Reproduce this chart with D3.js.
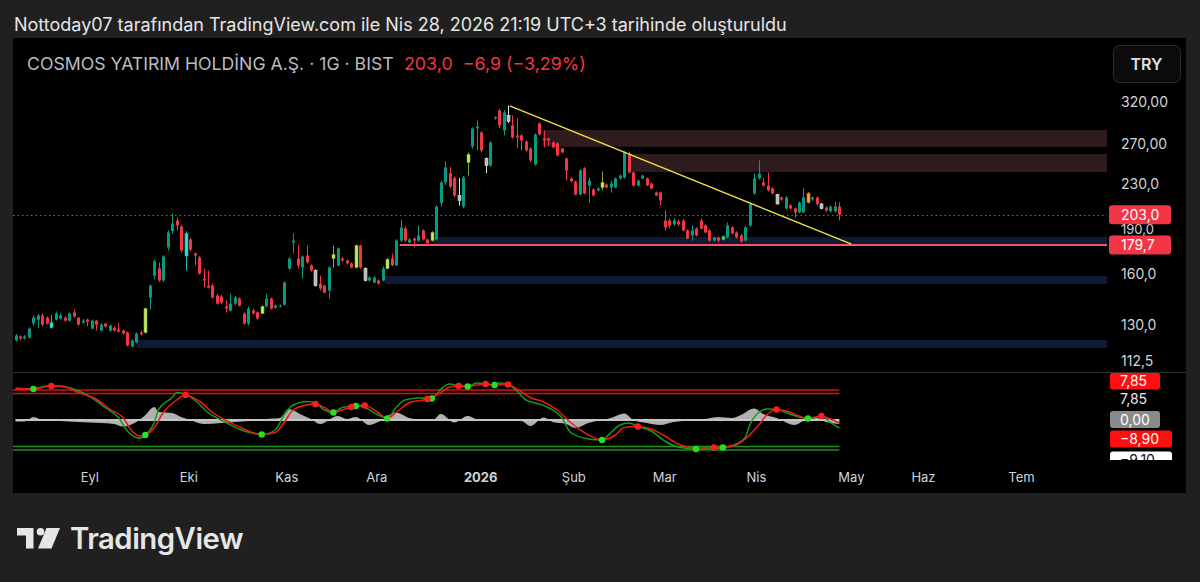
<!DOCTYPE html>
<html><head><meta charset="utf-8">
<script src="https://cdn.jsdelivr.net/npm/d3@7"></script>
<style>html,body{margin:0;padding:0;background:#202020;overflow:hidden}svg{display:block}</style>
</head><body><svg id="c" width="1200" height="582"></svg>
<script>
// ---------------- DATA ----------------
const openP = [122.3,124.3,123.3,123.8,131.0,133.0,135.3,134.1,128.8,133.0,133.6,134.1,132.5,137.0,134.1,131.4,133.1,128.3,132.5,127.3,
130.9,127.3,128.8,127.8,127.3,126.3,119.4,121.3,126.3,126.3,145.4,158.9,163.5,155.8,178.0,190.0,198.4,193.7,172.0,183.8,
173.7,171.0,156.9,152.6,152.6,146.6,146.0,140.3,138.0,141.9,144.8,136.4,130.9,138.0,137.0,136.4,140.3,144.8,139.6,140.3,
141.3,163.5,181.5,170.2,164.2,172.3,165.5,162.2,153.8,152.6,149.6,170.2,165.5,170.2,168.9,166.9,164.2,179.4,163.5,155.8,
154.5,155.8,155.8,163.5,170.2,165.5,183.0,192.1,181.5,184.5,183.0,190.6,183.8,183.0,183.8,213.0,231.3,240.3,235.5,219.5,
210.0,250.8,267.5,287.6,283.0,254.8,247.7,299.5,309.3,285.3,303.0,291.2,279.6,279.6,272.9,265.3,248.7,293.5,276.2,276.2,
271.8,270.7,265.3,254.8,235.1,232.3,220.4,244.8,228.5,224.9,224.0,226.7,229.4,226.7,226.7,235.1,236.0,260.0,240.8,228.5,
235.1,235.1,230.3,222.2,222.2,198.4,198.4,195.3,197.6,198.4,190.6,186.8,192.1,198.4,194.5,190.6,183.0,185.3,183.8,185.3,
193.0,189.1,186.8,183.0,194.5,221.3,235.1,231.3,228.5,225.8,220.4,217.7,208.3,210.8,208.3,205.0,205.0,221.3,216.0,217.7,
212.1,209.1,205.8,205.8,209.9];
const highP = [125.5,125.0,125.0,129.0,135.3,136.0,136.5,134.8,135.5,137.5,136.5,134.8,137.0,138.5,134.5,133.5,133.6,133.0,133.0,131.0,
131.4,130.5,129.4,131.4,127.8,126.8,122.8,126.3,127.3,139.6,153.2,169.5,167.6,172.5,190.6,204.0,201.0,195.0,190.0,185.0,
174.4,172.0,163.5,162.2,154.0,147.5,147.0,143.7,147.8,146.5,145.5,137.0,140.3,139.1,137.5,141.0,147.5,145.5,141.4,141.4,
155.2,171.0,188.3,179.4,172.5,179.4,166.2,163.0,158.9,153.2,165.0,179.4,178.0,171.5,169.5,167.6,180.0,180.0,164.2,158.3,
158.5,156.5,165.0,170.5,173.7,184.0,199.2,193.5,185.0,185.3,194.5,191.5,184.5,190.0,211.0,232.5,252.0,246.0,237.0,235.5,
237.5,261.0,289.0,297.1,284.5,256.0,273.0,302.0,311.0,310.0,315.7,303.2,300.0,281.0,274.0,266.5,282.0,294.8,285.3,277.0,
273.0,272.0,266.0,256.0,236.0,233.0,244.0,246.0,236.0,226.0,227.0,241.8,230.5,233.0,236.0,239.0,262.5,262.0,241.5,234.0,
238.5,236.0,231.0,223.0,223.0,206.6,200.0,200.0,199.0,199.5,191.5,194.5,193.0,200.0,195.5,191.5,186.0,186.0,187.0,197.0,
194.0,190.0,188.0,194.0,213.5,240.0,252.8,236.0,240.8,227.0,221.0,218.5,219.0,212.0,209.0,214.0,226.2,222.5,218.5,218.5,
213.0,210.0,211.0,214.0,213.5];
const lowP = [121.8,122.5,122.8,123.3,129.9,128.5,129.5,130.5,128.3,132.5,133.0,132.0,132.0,134.0,129.8,131.0,129.4,128.0,127.3,126.8,
128.8,126.8,126.8,126.3,125.3,119.4,118.9,120.8,124.8,125.8,138.5,156.5,155.0,155.0,175.8,188.0,190.6,174.5,162.0,175.0,
165.5,159.5,151.4,150.8,144.8,141.3,141.5,136.9,137.5,141.0,140.3,130.4,129.9,135.8,133.0,136.0,139.6,138.5,139.0,139.8,
140.8,162.5,173.7,163.5,157.1,166.9,161.5,152.0,149.6,147.8,144.8,164.2,165.0,168.0,166.2,163.5,163.5,163.5,155.2,155.0,
154.0,153.2,155.2,163.0,165.0,165.0,182.0,182.0,181.0,178.0,182.0,183.0,179.5,182.3,183.0,210.0,229.0,226.0,218.0,210.8,
208.5,237.9,265.0,263.2,261.0,240.0,246.5,298.0,288.0,279.6,294.0,276.0,265.6,263.2,262.0,251.0,247.7,279.6,266.5,268.6,
265.5,257.0,260.0,233.2,231.5,219.5,219.5,220.5,212.9,218.5,223.0,224.0,226.0,222.0,226.0,234.0,235.0,240.0,227.5,227.5,
234.5,228.0,225.0,219.0,210.8,190.6,192.0,194.0,194.0,190.0,184.0,183.0,186.0,191.5,188.5,182.0,182.5,181.5,183.0,184.5,
187.5,184.5,181.5,182.3,193.5,220.0,234.0,227.5,223.0,220.5,211.5,215.0,207.5,207.5,200.8,204.5,204.5,212.5,215.0,211.0,
207.5,205.5,205.0,205.0,198.4];
const closeP = [124.8,123.3,124.3,128.3,134.1,135.3,130.4,131.0,131.4,136.4,135.3,132.5,136.4,134.7,130.4,132.5,132.0,132.5,130.4,130.4,
129.4,129.9,127.3,126.8,125.8,119.9,122.3,125.8,125.3,139.1,152.6,168.3,155.8,171.6,189.1,196.0,194.5,175.8,188.3,176.5,
172.3,160.2,155.8,151.4,145.4,141.9,142.5,139.1,141.9,145.4,140.8,130.9,139.1,136.4,133.6,140.3,144.8,139.1,140.8,140.8,
154.6,170.2,183.0,165.5,171.6,167.6,162.2,152.6,150.8,148.4,164.2,173.0,177.2,168.9,166.9,164.2,179.4,164.2,155.8,157.7,
157.7,153.8,163.5,169.6,165.5,183.0,192.9,183.0,183.8,183.0,186.8,183.8,180.9,189.1,209.9,231.3,245.8,227.5,219.5,215.1,
236.1,259.0,287.6,289.9,263.2,247.7,271.8,301.0,291.2,306.8,296.0,277.3,277.3,274.0,263.2,252.8,280.7,280.7,274.0,274.0,
266.5,257.9,261.1,242.8,232.3,220.4,242.8,221.3,233.2,219.5,225.8,231.3,226.7,230.3,235.1,237.9,261.1,240.8,228.5,233.2,
237.9,228.5,225.8,219.5,215.1,193.0,194.5,198.4,195.3,190.6,184.5,190.6,186.8,192.1,189.1,183.0,185.3,183.0,186.0,194.5,
188.3,185.3,182.3,193.0,212.1,235.1,239.8,228.5,224.0,221.3,212.1,216.0,217.7,208.3,205.0,213.4,217.7,213.4,217.7,212.1,
208.3,206.6,209.9,209.9,203.0];
// highlighted bars (bar index -> colour kind)
const barMarks = {8:'cyan',29:'yg',38:'cyan',55:'yg',67:'grey',71:'yg',76:'yg',78:'grey',83:'yg',93:'yg',99:'grey',101:'yg',
  105:'grey',110:'grey',131:'yg',158:'lime',170:'grey',177:'orange',180:'grey'};

// month labels: [label, bar index of first session]
const monthTicks = [['Eyl',16.6],['Eki',38.7],['Kas',60.6],['Ara',80.7],['2026',103.9],['Şub',124.7],['Mar',145],['Nis',165.5],['May',186.7],['Haz',202.8],['Tem',224.7]];
const priceTicks = [[320,'320,00'],[270,'270,00'],[230,'230,0'],[190,'190,0'],[160,'160,0'],[130,'130,0'],[112.5,'112,5']];

// drawn zones: [startBar, lowPrice, highPrice, kind]
const zones = [[117.7,267.0,285.8,'supply'],[137.1,241.3,259.5,'supply'],[93.2,180.4,185.6,'demand'],[82.5,153.6,158.6,'demand'],[27.1,118.7,122.6,'demand']];
const levelLine = {startBar:85.8, price:179.7};
const lastPrice = 203.0;
const trendLine = [[110.4,314.9],[186.7,180.4]];

// WaveTrend oscillator keypoints [bar, value]
const wt1 = [[0,62],[4,62],[7,68],[10,68],[13,62],[17,45],[20,25],[23,5],[25,-22],[27,-35],[28,-36],[29,-30],[31,-5],[32,22],[35,45],[36,55],[38,52],[40,40],[43,15],[47,-5],[51,-22],[54,-28],[55,-29],[58,-20],[60,10],[62,30],[65,37],[67,34],[69,20],[71,15],[73,25],[76,28],[78,25],[81,10],[83,3],[85,25],[87,40],[90,44],[93,43],[95,62],[97,72],[99,68],[101,67],[103,74],[105,72],[107,70],[108,74],[110,71],[112,58],[114,40],[117,32],[119,25],[122,5],[124,-25],[128,-38],[131,-40],[133,-25],[135,-10],[137,-6],[139,-13],[142,-22],[145,-42],[148,-54],[152,-58],[156,-57],[158,-55],[161,-48],[163,-35],[164,-10],[166,15],[168,22],[170,21],[173,12],[175,6],[177,3],[179,6],[180,8],[182,-5],[184,-16]];
const wt2 = [[0,64],[4,62],[8,68],[11,66],[14,55],[18,42],[21,22],[24,5],[26,-22],[28,-32],[29,-30],[31,-15],[33,15],[36,40],[38,50],[41,38],[44,15],[48,-5],[51,-18],[55,-29],[58,-25],[60,-5],[62,20],[65,30],[67,32],[69,25],[71,15],[73,20],[75,26],[77,29],[78,29],[81,15],[83,3],[85,15],[88,35],[92,42],[95,55],[97,66],[99,68],[101,67],[103,70],[105,72],[107,70],[110,71],[112,62],[115,45],[118,36],[121,20],[124,-5],[128,-30],[131,-40],[134,-30],[136,-15],[139,-13],[142,-18],[145,-32],[148,-48],[152,-56],[156,-55],[158,-55],[161,-50],[163,-38],[166,-10],[168,12],[170,21],[173,16],[175,8],[177,3],[180,8],[182,2],[184,-6]];
const wtHist = [[0,-3],[2,-3],[4,6],[6,0],[10,-2],[14,-4],[19,-6],[22,-8],[24,-13],[27,-4],[29,10],[31,26],[32,16],[35,14],[37,6],[39,0],[42,-8],[46,-6],[49,-4],[52,-2],[56,2],[59,4],[61,22],[64,10],[66,2],[68,-8],[72,8],[74,2],[76,6],[79,-10],[81,-4],[85,15],[88,4],[90,1],[93,-2],[95,12],[98,-5],[101,8],[104,-2],[106,2],[109,0],[113,-2],[115,-12],[118,5],[120,-4],[123,-8],[125,-16],[128,-6],[131,0],[133,4],[136,13],[138,0],[141,-6],[144,-10],[147,-4],[151,-1],[154,2],[157,6],[160,4],[162,10],[165,23],[167,12],[170,4],[174,-10],[176,-2],[179,4],[181,-4],[184,-8]];
const crossUp = [[4,62],[29,-30],[55,-29],[71,15],[76,28],[83,3],[93,43],[101,67],[107,70],[131,-40],[152,-58],[158,-55],[177,3]];
const crossDown = [[8,68],[38,50],[67,32],[75,26],[78,29],[92,42],[99,68],[105,72],[110,71],[139,-13],[156,-55],[170,21],[180,8]];
const obLevels = [60,53], osLevels = [-53,-60];
const oscLabels = [['7,85','red'],['7,85','plain'],['0,00','grey'],['\u22128,90','red'],['\u22129,10','white']];

// ---------------- LAYOUT ----------------
const svg = d3.select('#c');
const C = {bg:'#202020', panel:'#000000', up:'#089981', down:'#f23645', text:'#d1d4dc'};
const plotL = 13, plotR = 1107, paneTop = 38, paneBot = 372, oscTop = 373, oscBot = 460, axisR = 1186;

svg.append('rect').attr('width',1200).attr('height',582).attr('fill',C.bg);
svg.append('rect').attr('x',plotL).attr('y',paneTop).attr('width',axisR-plotL).attr('height',493-paneTop).attr('fill',C.panel);

const n = closeP.length;
const x = d3.scaleLinear().domain([0, n-1]).range([15.5, 839.3]);
const y = d3.scaleLog().domain([107.5, 413]).range([372.5, 38.7]);
const yo = d3.scaleLinear().domain([-80, 80]).range([460, 380]);

const defs = svg.append('defs');
defs.append('clipPath').attr('id','cp').append('rect').attr('x',plotL).attr('y',paneTop).attr('width',plotR-plotL).attr('height',paneBot-paneTop);
defs.append('clipPath').attr('id','co').append('rect').attr('x',plotL).attr('y',oscTop).attr('width',axisR-plotL).attr('height',oscBot-oscTop);

// title
function fit(sel, w){ const l = sel.node().getComputedTextLength(); const fs = parseFloat(sel.attr('font-size')); sel.attr('font-size', fs*w/l); }
const t0 = svg.append('text').attr('x',14).attr('y',31).attr('font-family','Inter, Roboto, sans-serif').attr('font-size',16).attr('fill','#e6e6e6')
  .text('Nottoday07 tarafından TradingView.com ile Nis 28, 2026 21:19 UTC+3 tarihinde oluşturuldu');
fit(t0, 773);
const t1 = svg.append('text').attr('x',27).attr('y',70).attr('font-family','Inter, Roboto, sans-serif').attr('font-size',15).attr('fill','#b8bcc6')
  .text('COSMOS YATIRIM HOLDİNG A.Ş. · 1G · BIST');
fit(t1, 367);
const t2 = svg.append('text').attr('x',404).attr('y',70).attr('font-family','Inter, Roboto, sans-serif').attr('font-size',15).attr('fill','#f23645')
  .attr('xml:space','preserve').text('203,0  \u22126,9 (\u22123,29%)');
fit(t2, 182);

// TRY button
svg.append('rect').attr('x',1113.5).attr('y',45.5).attr('width',67).attr('height',37).attr('rx',6).attr('fill','#0b0b0b').attr('stroke','#2c2c2c');
svg.append('text').attr('x',1146.5).attr('y',69.5).attr('text-anchor','middle').attr('font-family','Inter, Roboto, sans-serif')
  .attr('font-size',16).attr('font-weight',600).attr('fill','#e0e0e0').text('TRY');

// ---- price pane ----
const gp = svg.append('g').attr('clip-path','url(#cp)');
zones.forEach(z => {
  gp.append('rect').attr('x',x(z[0])).attr('y',y(z[2])).attr('width',plotR - x(z[0])).attr('height',y(z[1])-y(z[2]))
    .attr('fill', z[3]==='supply' ? '#2e1b1d' : '#0e1b30');
});
gp.append('line').attr('x1',x(levelLine.startBar)).attr('x2',plotR).attr('y1',y(levelLine.price)).attr('y2',y(levelLine.price))
  .attr('stroke','#f0556a').attr('stroke-width',2);
gp.append('line').attr('x1',plotL).attr('x2',plotR).attr('y1',Math.round(y(lastPrice))+0.5).attr('y2',Math.round(y(lastPrice))+0.5)
  .attr('stroke','#f23645').attr('stroke-width',1).attr('stroke-dasharray','1.5,3');

const markFill = {yg:'#c8ee5a', grey:'#b8b8b8', cyan:'#33e0d6', lime:'#4cd964', orange:'#ff9f43'};
const markStroke = {yg:'#7aa83a', grey:'#e0e0e0', cyan:'#1fb5ad', lime:'#2e9e48', orange:'#d07020'};
d3.range(n).forEach(i => {
  const o = openP[i], c = closeP[i], h = highP[i], l = lowP[i];
  const mk = barMarks[i];
  const col = mk ? markFill[mk] : (c >= o ? C.up : C.down);
  const cx = Math.round(x(i)) + 0.5;
  gp.append('line').attr('x1',cx).attr('x2',cx).attr('y1',y(h)).attr('y2',y(l)).attr('stroke', mk ? markStroke[mk] : col).attr('stroke-width',1);
  const top = y(Math.max(o,c)), bot = y(Math.min(o,c));
  gp.append('rect').attr('x',cx-1.5).attr('y',top).attr('width',3).attr('height',Math.max(1,bot-top))
    .attr('fill',col).attr('stroke', mk ? markStroke[mk] : 'none').attr('stroke-width', mk ? 0.6 : 0);
});
gp.append('line').attr('x1',x(trendLine[0][0])).attr('y1',y(trendLine[0][1])).attr('x2',x(trendLine[1][0])).attr('y2',y(trendLine[1][1]))
  .attr('stroke','#f2e043').attr('stroke-width',1.4);

// price axis labels
const fontAxis = 'Inter, Roboto, sans-serif';
priceTicks.forEach(t => {
  const yy = t[0] === 190 ? y(t[0]) + 3 : y(t[0]) + 5;
  svg.append('text').attr('x',1121).attr('y',yy).attr('font-family',fontAxis).attr('font-size',t[0]===190?13:14).attr('fill',C.text).text(t[1]);
});
function tag(val, txt, fill, tc){
  const cy = y(val);
  svg.append('rect').attr('x',1109).attr('y',cy-9.5).attr('width',62).attr('height',19).attr('rx',3).attr('fill',fill);
  svg.append('text').attr('x',1121).attr('y',cy+5).attr('font-family',fontAxis).attr('font-size',14).attr('fill',tc).text(txt);
}
tag(lastPrice,'203,0','#f23645','#fff');
tag(levelLine.price,'179,7','#f23645','#fff');

// separator
svg.append('line').attr('x1',plotL).attr('x2',axisR).attr('y1',372.5).attr('y2',372.5).attr('stroke','#2e2e2e');

// ---- oscillator ----
const go = svg.append('g').attr('clip-path','url(#co)');
obLevels.forEach(v => go.append('line').attr('x1',plotL).attr('x2',x(n-1)).attr('y1',yo(v)).attr('y2',yo(v)).attr('stroke','#d31515').attr('stroke-width',1.6));
osLevels.forEach(v => go.append('line').attr('x1',plotL).attr('x2',x(n-1)).attr('y1',yo(v)).attr('y2',yo(v)).attr('stroke','#1f8f1f').attr('stroke-width',1.6));
const area = d3.area().x(d=>x(d[0])).y0(yo(0)).y1(d=>yo(d[1])).curve(d3.curveMonotoneX);
go.append('path').datum(wtHist).attr('d',area).attr('fill','#c4c4c4').attr('fill-opacity',0.9);
go.append('line').attr('x1',x(0)).attr('x2',x(n-1)).attr('y1',yo(0)).attr('y2',yo(0)).attr('stroke','#c4c4c4').attr('stroke-width',2);
const ln = d3.line().x(d=>x(d[0])).y(d=>yo(d[1])).curve(d3.curveMonotoneX);
go.append('path').datum(wt1).attr('d',ln).attr('fill','none').attr('stroke','#169c16').attr('stroke-width',1.5);
go.append('path').datum(wt2).attr('d',ln).attr('fill','none').attr('stroke','#ee1a1a').attr('stroke-width',1.5);
crossUp.forEach(d => go.append('circle').attr('cx',x(d[0])).attr('cy',yo(d[1])).attr('r',3.2).attr('fill','#22e322'));
crossDown.forEach(d => go.append('circle').attr('cx',x(d[0])).attr('cy',yo(d[1])).attr('r',3.2).attr('fill','#ff1c1c'));

// oscillator labels
const labY = [381, 399, 419.5, 439, 460];
const labStyle = {red:['#ff0f0f','#fff'], plain:[null,'#e8e8e8'], grey:['#8a8a8a','#fff'], white:['#ffffff','#111']};
const gl = svg.append('g').attr('clip-path','url(#co)');
oscLabels.forEach((d,k) => {
  const st = labStyle[d[1]];
  const w = d[0].length > 4 ? 62 : 50;
  if (st[0]) gl.append('rect').attr('x',1110).attr('y',labY[k]-8.5).attr('width',w).attr('height',17).attr('rx',3).attr('fill',st[0]);
  gl.append('text').attr('x',1120).attr('y',labY[k]+5).attr('font-family',fontAxis).attr('font-size',14).attr('fill',st[1]).text(d[0]);
});

// time axis
monthTicks.forEach(t => {
  svg.append('text').attr('x',x(t[1])).attr('y',482).attr('text-anchor','middle').attr('font-family',fontAxis)
    .attr('font-size',13).attr('font-weight', t[0]==='2026' ? 700 : 400).attr('fill',C.text).text(t[0]);
});

// TradingView logo
const lg = svg.append('g').attr('fill','#e6e6e6');
lg.append('path').attr('d','M17,528 H33.5 V548.5 H26 V535.5 H17 Z');
lg.append('circle').attr('cx',40.5).attr('cy',531.8).attr('r',3.8);
lg.append('path').attr('d','M46.5,528 H60 L51.5,548.5 H38 Z');
const lt = svg.append('text').attr('x',70).attr('y',548.5).attr('font-family','Inter, Roboto, sans-serif').attr('font-size',29).attr('font-weight',600)
  .attr('fill','#e6e6e6').attr('letter-spacing',-0.5).text('TradingView');
fit(lt, 173);
</script>
</body></html>
